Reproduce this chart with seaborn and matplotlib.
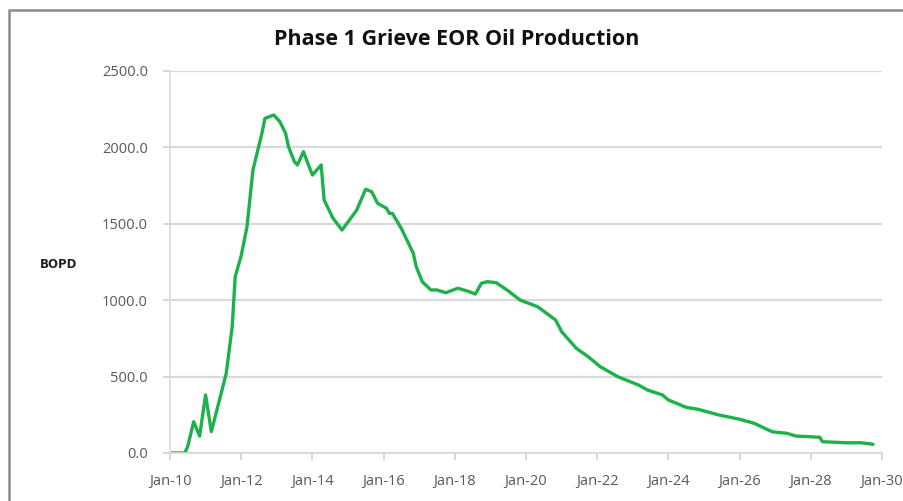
import pandas as pd
import seaborn as sns
import matplotlib.pyplot as plt
import matplotlib.dates as mdates
from matplotlib.patches import Rectangle

################################################################################
# values (monthly samples, BOPD)
months = [
    "2010-01", "2010-06", "2010-07", "2010-09", "2010-11", "2011-01", "2011-03",
    "2011-06", "2011-08", "2011-10", "2011-11", "2012-01", "2012-03", "2012-05",
    "2012-08", "2012-09", "2012-12", "2013-02", "2013-04", "2013-05", "2013-07",
    "2013-08", "2013-10", "2014-01", "2014-04", "2014-05", "2014-08", "2014-11",
    "2015-04", "2015-07", "2015-09", "2015-11", "2016-02", "2016-03", "2016-04",
    "2016-07", "2016-11", "2016-12", "2017-02", "2017-05", "2017-07", "2017-10",
    "2018-02", "2018-05", "2018-08", "2018-10", "2018-12", "2019-03", "2019-07",
    "2019-11", "2020-05", "2020-11", "2021-01", "2021-06", "2021-10", "2022-02",
    "2022-08", "2023-03", "2023-06", "2023-11", "2024-01", "2024-07", "2024-11",
    "2025-06", "2026-01", "2026-06", "2026-12", "2027-05", "2027-08", "2028-04",
    "2028-05", "2029-01", "2029-06", "2029-10",
]
bopd = [
    0, 0, 41, 205, 111, 380, 140,
    368, 521, 827, 1154, 1290, 1481, 1852,
    2092, 2190, 2212, 2168, 2092, 2004, 1906,
    1885, 1972, 1819, 1885, 1656, 1536, 1459,
    1590, 1726, 1710, 1634, 1601, 1568, 1568,
    1470, 1307, 1220, 1121, 1067, 1067, 1049,
    1078, 1062, 1040, 1111, 1121, 1115, 1062,
    1001, 957, 870, 794, 685, 630, 565,
    499, 445, 412, 380, 347, 299, 286,
    249, 221, 194, 139, 129, 111, 103,
    74, 67, 67, 57,
]
y_ticks = [0, 500, 1000, 1500, 2000, 2500]

df = pd.DataFrame({"date": pd.to_datetime(months), "bopd": bopd})

################################################################################
sns.set_style("white")
plt.rcParams['font.family'] = ['Open Sans', 'DejaVu Sans']

fig = plt.figure(figsize=(9.04, 5.01), dpi=100)
ax = fig.add_axes([170 / 904, 1 - 453 / 501, 712 / 904, 382 / 501])

sns.lineplot(data=df, x="date", y="bopd", ax=ax, color="#1db14b", lw=2.4)

ax.set_xlim(pd.Timestamp("2010-01-01"), pd.Timestamp("2030-01-01"))
ax.set_ylim(0, 2500)
ax.set_yticks(y_ticks)
ax.set_yticklabels(["%.1f" % v for v in y_ticks])
ax.xaxis.set_major_locator(mdates.YearLocator(2))
ax.xaxis.set_major_formatter(mdates.DateFormatter("%b-%y"))

ax.grid(axis="y", color="#d9d9d9", lw=1.6)
ax.grid(axis="x", visible=False)
ax.set_axisbelow(True)
for side in ["top", "right"]:
    ax.spines[side].set_visible(False)
for side in ["left", "bottom"]:
    ax.spines[side].set_color("#d9d9d9")
    ax.spines[side].set_linewidth(1.2)
ax.tick_params(axis="both", colors="#d0d0d0", length=5, width=1.2,
               labelcolor="#595959", labelsize=10.5)
ax.tick_params(axis="x", pad=10)
ax.tick_params(axis="y", pad=11)
ax.tick_params(left=True, bottom=True)

ax.set_xlabel("")
ax.set_ylabel("")
fig.text(59 / 904, 1 - 265 / 501, "BOPD", fontsize=8.5, fontweight="bold",
         color="#222222", ha="center", va="center",
         family=["DejaVu Sans"])
fig.text(457 / 904, 1 - 39 / 501, "Phase 1 Grieve EOR Oil Production",
         fontsize=15.5, fontweight="bold", color="#111111",
         ha="center", va="center")

# chart area frame (only left and top edges show in the crop)
fig.add_artist(Rectangle((9 / 904, -0.2), 1.2, 1 - 10 / 501 + 0.2,
                         transform=fig.transFigure, fill=False,
                         edgecolor="#8c8c8c", lw=1.8))

plt.savefig("out.png", dpi=100)
